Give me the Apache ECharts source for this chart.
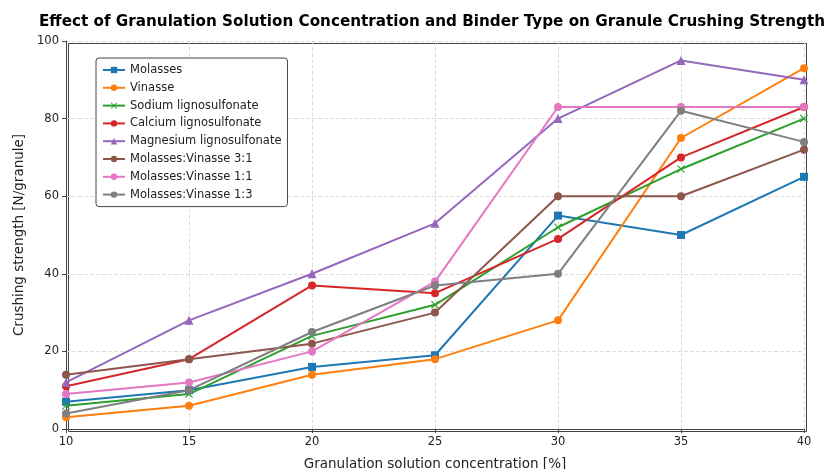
<!DOCTYPE html>
<html>
<head>
<meta charset="utf-8">
<script src="https://cdn.jsdelivr.net/npm/echarts@6/dist/echarts.min.js"></script>
<style>
  html, body { margin: 0; padding: 0; background: #fff; }
  #chart { width: 829px; height: 469px; }
</style>
</head>
<body>
<div id="chart"></div>
<script>
var concentrations = [10, 15, 20, 25, 30, 35, 40];

var molasses = [7, 10, 16, 19, 55, 50, 65];
var vinasse = [3, 6, 14, 18, 28, 75, 93];
var sodiumLigno = [6, 9, 24, 32, 52, 67, 80];
var calciumLigno = [11, 18, 37, 35, 49, 70, 83];
var magnesiumLigno = [12, 28, 40, 53, 80, 95, 90];
var mv31 = [14, 18, 22, 30, 60, 60, 72];
var mv11 = [9, 12, 20, 38, 83, 83, 83];
var mv13 = [4, 10, 25, 37, 40, 82, 74];

// thin "x" marker like matplotlib's
var xSymbol = 'path://M0,1L1,0L5,4L9,0L10,1L6,5L10,9L9,10L5,6L1,10L0,9L4,5Z';

var seriesDefs = [
  { name: 'Molasses', data: molasses, color: '#1f77b4', symbol: 'rect' },
  { name: 'Vinasse', data: vinasse, color: '#ff7f0e', symbol: 'circle' },
  { name: 'Sodium lignosulfonate', data: sodiumLigno, color: '#2ca02c', symbol: xSymbol },
  { name: 'Calcium lignosulfonate', data: calciumLigno, color: '#d62728', symbol: 'circle' },
  { name: 'Magnesium lignosulfonate', data: magnesiumLigno, color: '#9467bd', symbol: 'triangle' },
  { name: 'Molasses:Vinasse 3:1', data: mv31, color: '#8c564b', symbol: 'circle' },
  { name: 'Molasses:Vinasse 1:1', data: mv11, color: '#e377c2', symbol: 'circle' },
  { name: 'Molasses:Vinasse 1:3', data: mv13, color: '#7f7f7f', symbol: 'circle' }
];

var chart = echarts.init(document.getElementById('chart'));

var series = seriesDefs.map(function (s) {
  return {
    name: s.name,
    type: 'line',
    data: s.data.map(function (v, i) { return [concentrations[i], v]; }),
    symbol: s.symbol,
    symbolSize: s.symbol === 'triangle' ? 9 : 8,
    showAllSymbol: true,
    lineStyle: { width: 2, color: s.color },
    itemStyle: { color: s.color },
    color: s.color
  };
});

var axisText = { fontFamily: 'DejaVu Sans', fontSize: 11.5, color: '#222' };

var option = {
  animation: false,
  title: {
    text: 'Effect of Granulation Solution Concentration and Binder Type on Granule Crushing Strength',
    left: 427,
    textAlign: 'center',
    top: 10,
    textStyle: { fontFamily: 'DejaVu Sans', fontSize: 15.2, fontWeight: 'bold', color: '#000' }
  },
  legend: {
    orient: 'vertical',
    left: 96,
    top: 58,
    padding: [6, 6, 6, 6],
    itemGap: 5.8,
    itemWidth: 22,
    itemHeight: 8,
    borderColor: '#444',
    borderWidth: 1,
    borderRadius: 3,
    backgroundColor: '#fff',
    textStyle: { fontFamily: 'DejaVu Sans', fontSize: 11.5, color: '#222' },
    data: seriesDefs.map(function (s) { return s.name; })
  },
  grid: { left: 66, right: 25, top: 41, bottom: 40, outerBoundsMode: 'none' },
  xAxis: {
    type: 'value',
    min: 10,
    max: 40,
    interval: 5,
    name: 'Granulation solution concentration [%]',
    nameLocation: 'middle',
    nameGap: 28,
    nameTextStyle: { fontFamily: 'DejaVu Sans', fontSize: 13.5, color: '#222' },
    axisLine: { show: true, lineStyle: { color: '#444', width: 1 } },
    axisTick: { show: true, length: 4, lineStyle: { color: '#444' } },
    axisLabel: Object.assign({ margin: 7 }, axisText),
    splitLine: { show: true, lineStyle: { color: '#ddd', type: 'dashed', width: 1 } }
  },
  yAxis: {
    type: 'value',
    min: 0,
    max: 100,
    interval: 20,
    name: 'Crushing strength [N/granule]',
    nameLocation: 'middle',
    nameGap: 39,
    nameTextStyle: { fontFamily: 'DejaVu Sans', fontSize: 13.5, color: '#222' },
    axisLine: { show: true, lineStyle: { color: '#444', width: 1 } },
    axisTick: { show: true, length: 4, lineStyle: { color: '#444' } },
    axisLabel: Object.assign({ margin: 7 }, axisText),
    splitLine: { show: true, lineStyle: { color: '#ddd', type: 'dashed', width: 1 } }
  },
  graphic: [{
    type: 'rect',
    left: 66,
    top: 41,
    shape: { width: 738, height: 388 },
    style: { fill: 'none', stroke: '#444', lineWidth: 1 },
    silent: true,
    z: -1
  }],
  series: series
};

chart.setOption(option);
</script>
</body>
</html>
